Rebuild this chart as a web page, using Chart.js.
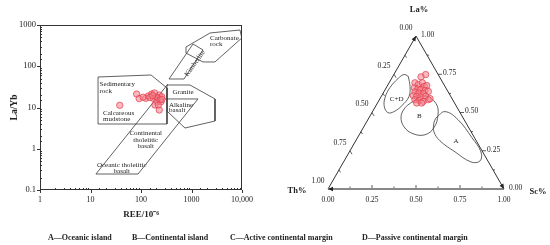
<!DOCTYPE html>
<html>
<head>
<meta charset="utf-8">
<script src="https://cdn.jsdelivr.net/npm/chart.js@4.4.1/dist/chart.umd.min.js"></script>
<style>
  body { margin: 0; background: #fff; }
  #wrap { position: relative; width: 550px; height: 245px; overflow: hidden; }
  #leftChart { position: absolute; left: 0; top: 0; }
  #rightChart { position: absolute; left: 275px; top: 0; }
  .note { position: absolute; top: 233px; font: bold 8px "Liberation Serif", serif; color: #222; white-space: nowrap; }
</style>
</head>
<body>
<div id="wrap">
  <canvas id="leftChart" width="275" height="245"></canvas>
  <canvas id="rightChart" width="275" height="245"></canvas>
  <span class="note" style="left:48px">A—Oceanic island</span>
  <span class="note" style="left:132px">B—Continental island</span>
  <span class="note" style="left:230px">C—Active continental margin</span>
  <span class="note" style="left:362px">D—Passive continental margin</span>
</div>
<script>
// ---- left panel: La/Yb vs REE ----
const reeValues = [38, 82, 92, 124, 140, 163, 175, 198, 230, 257, 249, 205, 189, 230, 150, 185, 215, 240, 170, 110, 260, 220];
const laYbValues = [11.3, 21.2, 16.5, 16.7, 19.0, 21.2, 16.7, 18.3, 20.1, 18.3, 13.8, 13.8, 11.5, 8.7, 17.5, 22.5, 17.0, 15.5, 19.5, 17.8, 15.8, 11.5];

const xTickValues = [1, 10, 100, 1000, 10000];
const xTickLabels = ['1', '10', '100', '1000', '10,000'];
const yTickValues = [0.1, 1, 10, 100, 1000];
const yTickLabels = ['0.1', '1', '10', '100', '1000'];

// field outlines [REE, La/Yb]
const sedimentaryRock = [[14.1, 54.9], [158, 61.4], [327, 29.7], [327, 3.98], [14.1, 3.98], [14.1, 54.9]];
const graniteField = [[327, 35.1], [934, 35.1], [2918, 16.1], [2918, 4.7], [743, 3.18], [327, 8.2], [327, 35.1]];
const basaltBand = [[342, 37.1], [12.8, 0.244], [87.3, 0.244], [1345, 16.1], [198, 16.1]];
const kimberliteField = [[359, 49.1], [710, 49.1], [1690, 248], [1071, 346], [359, 49.1]];
const carbonateField = [[778, 209], [778, 293], [2323, 640], [9125, 757], [9900, 484], [2918, 127], [1690, 127], [778, 209]];

const fieldLabels = [
  { text: 'Sedimentary', x: 15.1, y: 37.1, align: 'left' },
  { text: 'rock', x: 15.1, y: 25.5, align: 'left' },
  { text: 'Calcareous', x: 17.7, y: 7.2, align: 'left' },
  { text: 'mudstone', x: 17.7, y: 5.1, align: 'left' },
  { text: 'Granite', x: 679, y: 23.3, align: 'center' },
  { text: 'Alkaline', x: 359, y: 11.5, align: 'left' },
  { text: 'basalt', x: 359, y: 8.4, align: 'left' },
  { text: 'Continental', x: 124, y: 2.37, align: 'center' },
  { text: 'tholeiitic', x: 124, y: 1.63, align: 'center' },
  { text: 'basalt', x: 124, y: 1.17, align: 'center' },
  { text: 'Oceanic tholeiitic', x: 41.5, y: 0.404, align: 'center' },
  { text: 'basalt', x: 41.5, y: 0.281, align: 'center' },
  { text: 'Carbonate', x: 2323, y: 476, align: 'left' },
  { text: 'rock', x: 2323, y: 337, align: 'left' },
  { text: 'Kimberlite', x: 1173, y: 118, align: 'center', rotate: -55 }
];

// ---- right panel: La-Th-Sc ternary ----
const laValues = [0.748, 0.733, 0.694, 0.682, 0.694, 0.671, 0.676, 0.661, 0.654, 0.650, 0.645, 0.638, 0.635, 0.628, 0.623, 0.610, 0.606, 0.602, 0.606, 0.584, 0.579, 0.573, 0.584, 0.562, 0.562, 0.591];
const thValues = [0.071, 0.105, 0.159, 0.146, 0.117, 0.117, 0.101, 0.179, 0.163, 0.147, 0.126, 0.111, 0.188, 0.169, 0.147, 0.210, 0.193, 0.171, 0.142, 0.214, 0.193, 0.172, 0.138, 0.215, 0.187, 0.125];
const scValues = [0.181, 0.162, 0.147, 0.172, 0.189, 0.212, 0.223, 0.160, 0.183, 0.203, 0.229, 0.251, 0.177, 0.203, 0.230, 0.180, 0.201, 0.227, 0.252, 0.202, 0.228, 0.255, 0.278, 0.223, 0.251, 0.284];

const ternaryTicks = [0, 0.25, 0.5, 0.75, 1];
const ternaryTickLabels = ['0.00', '0.25', '0.50', '0.75', '1.00'];

// field outlines in triangle plane units (x along Th->Sc side, y up)
const cdField = [[0.456, 0.638], [0.466, 0.580], [0.460, 0.523], [0.420, 0.472], [0.375, 0.438], [0.341, 0.432], [0.320, 0.466], [0.324, 0.517], [0.352, 0.574], [0.398, 0.625], [0.432, 0.648], [0.456, 0.638]];
const bField = [[0.472, 0.489], [0.551, 0.528], [0.614, 0.483], [0.625, 0.420], [0.602, 0.347], [0.551, 0.307], [0.483, 0.313], [0.432, 0.352], [0.415, 0.409], [0.438, 0.460], [0.472, 0.489]];
const aField = [[0.614, 0.403], [0.665, 0.438], [0.739, 0.392], [0.818, 0.290], [0.869, 0.210], [0.864, 0.159], [0.813, 0.153], [0.722, 0.210], [0.636, 0.273], [0.602, 0.324], [0.602, 0.375], [0.614, 0.403]];
const ternaryFieldLabels = [
  { text: 'C+D', x: 0.390, y: 0.510 },
  { text: 'B', x: 0.519, y: 0.412 },
  { text: 'A', x: 0.727, y: 0.273 }
];

const H = Math.sqrt(3) / 2;
const serif = '"Liberation Serif", "Times New Roman", serif';
const pointFill = 'rgba(242, 130, 140, 0.55)';
const pointLine = 'rgba(228, 60, 75, 0.9)';
const lineColor = '#3a3a3a';

const toXY = pairs => pairs.map(p => ({ x: p[0], y: p[1] }));
const isPow10 = v => Math.abs(Math.log10(v) - Math.round(Math.log10(v))) < 1e-6;
const findLabel = (vals, labels, v) => {
  const i = vals.findIndex(t => Math.abs(t - v) / t < 1e-6);
  return i >= 0 ? labels[i] : '';
};

const outline = (data) => ({
  type: 'scatter',
  data: toXY(data),
  showLine: true,
  borderColor: lineColor,
  borderWidth: 0.8,
  pointRadius: 0,
  fill: false,
  order: 2
});

const plotFrame = {
  id: 'plotFrame',
  beforeDatasetsDraw(chart) {
    const { ctx, chartArea: a, scales: { x, y } } = chart;
    ctx.save();
    ctx.strokeStyle = '#333';
    ctx.lineWidth = 1;
    ctx.strokeRect(a.left + 0.5, a.top + 0.5, a.right - a.left - 1, a.bottom - a.top - 1);
    x.ticks.forEach(t => {
      const px = Math.round(x.getPixelForValue(t.value)) + 0.5;
      ctx.beginPath();
      if (isPow10(t.value)) { ctx.moveTo(px, a.bottom); ctx.lineTo(px, a.bottom + 3); }
      else { ctx.moveTo(px, a.bottom); ctx.lineTo(px, a.bottom - 2); }
      ctx.stroke();
    });
    y.ticks.forEach(t => {
      const py = Math.round(y.getPixelForValue(t.value)) + 0.5;
      ctx.beginPath();
      if (isPow10(t.value)) { ctx.moveTo(a.left, py); ctx.lineTo(a.left - 3, py); }
      else { ctx.moveTo(a.left, py); ctx.lineTo(a.left + 2, py); }
      ctx.stroke();
    });
    // field names
    ctx.fillStyle = '#222';
    ctx.font = '7px ' + serif;
    ctx.textBaseline = 'middle';
    fieldLabels.forEach(l => {
      const px = x.getPixelForValue(l.x), py = y.getPixelForValue(l.y);
      ctx.save();
      ctx.translate(px, py);
      if (l.rotate) ctx.rotate(l.rotate * Math.PI / 180);
      ctx.textAlign = l.align;
      ctx.fillText(l.text, 0, 0);
      ctx.restore();
    });
    ctx.restore();
  }
};

new Chart(document.getElementById('leftChart'), {
  type: 'scatter',
  data: {
    datasets: [
      outline(sedimentaryRock),
      outline(graniteField),
      outline(basaltBand),
      outline(kimberliteField),
      outline(carbonateField),
      {
        type: 'scatter',
        data: reeValues.map((v, i) => ({ x: v, y: laYbValues[i] })),
        backgroundColor: pointFill,
        borderColor: pointLine,
        borderWidth: 0.8,
        pointRadius: 3.2,
        order: 1
      }
    ]
  },
  options: {
    responsive: false,
    devicePixelRatio: 1,
    animation: false,
    layout: { padding: { left: 5, right: 33, top: 25, bottom: 23 } },
    plugins: { legend: { display: false }, tooltip: { enabled: false } },
    scales: {
      x: {
        type: 'logarithmic',
        min: 1,
        max: 10000,
        afterFit: s => { s.height = 32; },
        grid: { display: false, drawTicks: false },
        border: { display: false },
        ticks: {
          autoSkip: false,
          maxRotation: 0,
          padding: 5,
          color: '#222',
          font: { family: serif, size: 8 },
          callback: v => findLabel(xTickValues, xTickLabels, v)
        },
        title: {
          display: true,
          text: 'REE/10⁻⁶',
          color: '#222',
          font: { family: serif, size: 9, weight: 'bold' },
          padding: { top: 2, bottom: 2 }
        }
      },
      y: {
        type: 'logarithmic',
        min: 0.1,
        max: 1000,
        afterFit: s => { s.width = 35; },
        grid: { display: false, drawTicks: false },
        border: { display: false },
        ticks: {
          autoSkip: false,
          padding: 4,
          color: '#222',
          font: { family: serif, size: 8.5 },
          callback: v => findLabel(yTickValues, yTickLabels, v)
        },
        title: {
          display: true,
          text: 'La/Yb',
          color: '#222',
          font: { family: serif, size: 9.5, weight: 'bold' },
          padding: { top: 4, bottom: 2 }
        }
      }
    }
  },
  plugins: [plotFrame]
});

// ternary frame, ticks and labels
const ternaryFrame = {
  id: 'ternaryFrame',
  beforeDatasetsDraw(chart) {
    const { ctx, scales: { x, y } } = chart;
    const P = (cx, cy) => [x.getPixelForValue(cx), y.getPixelForValue(cy)];
    const L = P(0, 0), R = P(1, 0), T = P(0.5, H);
    ctx.save();
    ctx.lineWidth = 1;
    ctx.strokeStyle = '#333';
    ctx.beginPath();
    ctx.moveTo(L[0], L[1]); ctx.lineTo(T[0], T[1]); ctx.lineTo(R[0], R[1]);
    ctx.stroke();
    ctx.strokeStyle = '#888';
    ctx.lineWidth = 2;
    ctx.beginPath();
    ctx.moveTo(L[0], L[1]); ctx.lineTo(R[0], R[1]);
    ctx.stroke();

    // arrowheads at the corners
    const arrow = (tip, from) => {
      const ang = Math.atan2(tip[1] - from[1], tip[0] - from[0]);
      ctx.save();
      ctx.translate(tip[0], tip[1]);
      ctx.rotate(ang);
      ctx.fillStyle = '#222';
      ctx.beginPath();
      ctx.moveTo(0, 0); ctx.lineTo(-5, -2.2); ctx.lineTo(-5, 2.2); ctx.closePath();
      ctx.fill();
      ctx.restore();
    };
    arrow(T, L);
    arrow(R, T);
    arrow(L, R);

    // ticks every 0.125
    ctx.strokeStyle = '#333';
    ctx.lineWidth = 0.8;
    for (let k = 1; k < 8; k++) {
      const t = k / 8;
      const major = k % 2 === 0;
      // bottom side (Sc)
      let p = P(t, 0);
      ctx.beginPath(); ctx.moveTo(p[0], p[1] - 1); ctx.lineTo(p[0], p[1] - (major ? 4 : 2.5)); ctx.stroke();
      // right side (La)
      p = P(1 - t / 2, t * H);
      ctx.beginPath(); ctx.moveTo(p[0], p[1]); ctx.lineTo(p[0] + (major ? 4 : 2), p[1]); ctx.stroke();
      // left side (Th)
      p = P((1 - t) / 2, (1 - t) * H);
      ctx.beginPath(); ctx.moveTo(p[0], p[1]); ctx.lineTo(p[0] + (major ? 2 : 1.5), p[1] + (major ? 3.4 : 2.5)); ctx.stroke();
    }

    ctx.fillStyle = '#222';
    ctx.font = '7.5px ' + serif;
    ctx.textBaseline = 'middle';
    ternaryTicks.forEach((t, i) => {
      const txt = ternaryTickLabels[i];
      ctx.textAlign = 'center';
      let p = P(t, 0);
      ctx.fillText(txt, p[0], p[1] + 11);
      p = P(1 - t / 2, t * H);
      ctx.textAlign = 'left';
      ctx.fillText(txt, p[0] + 5, p[1] - 1);
      p = P((1 - t) / 2, (1 - t) * H);
      ctx.textAlign = 'center';
      ctx.fillText(txt, p[0] - 10, p[1] - 8);
    });

    ctx.font = 'bold 8.5px ' + serif;
    ctx.textAlign = 'center';
    ctx.fillText('La%', T[0] + 3, T[1] - 26);
    ctx.fillText('Th%', L[0] - 31, L[1] + 2);
    ctx.fillText('Sc%', R[0] + 34, R[1] + 3);

    ctx.font = '7px ' + serif;
    ternaryFieldLabels.forEach(l => {
      const p = P(l.x, l.y);
      ctx.fillText(l.text, p[0], p[1]);
    });
    ctx.restore();
  }
};

const curve = (data) => ({
  type: 'scatter',
  data: toXY(data),
  showLine: true,
  tension: 0.4,
  borderColor: lineColor,
  borderWidth: 0.8,
  pointRadius: 0,
  fill: false,
  order: 2
});

new Chart(document.getElementById('rightChart'), {
  type: 'scatter',
  data: {
    datasets: [
      curve(cdField),
      curve(bField),
      curve(aField),
      {
        type: 'scatter',
        data: laValues.map((la, i) => ({ x: scValues[i] + la / 2, y: la * H })),
        backgroundColor: pointFill,
        borderColor: pointLine,
        borderWidth: 0.8,
        pointRadius: 3.2,
        order: 1
      }
    ]
  },
  options: {
    responsive: false,
    devicePixelRatio: 1,
    animation: false,
    layout: { padding: { left: 53, right: 46, top: 36, bottom: 56 } },
    plugins: { legend: { display: false }, tooltip: { enabled: false } },
    scales: {
      x: { type: 'linear', min: 0, max: 1, display: false },
      y: { type: 'linear', min: 0, max: H, display: false }
    }
  },
  plugins: [ternaryFrame]
});
</script>
</body>
</html>
